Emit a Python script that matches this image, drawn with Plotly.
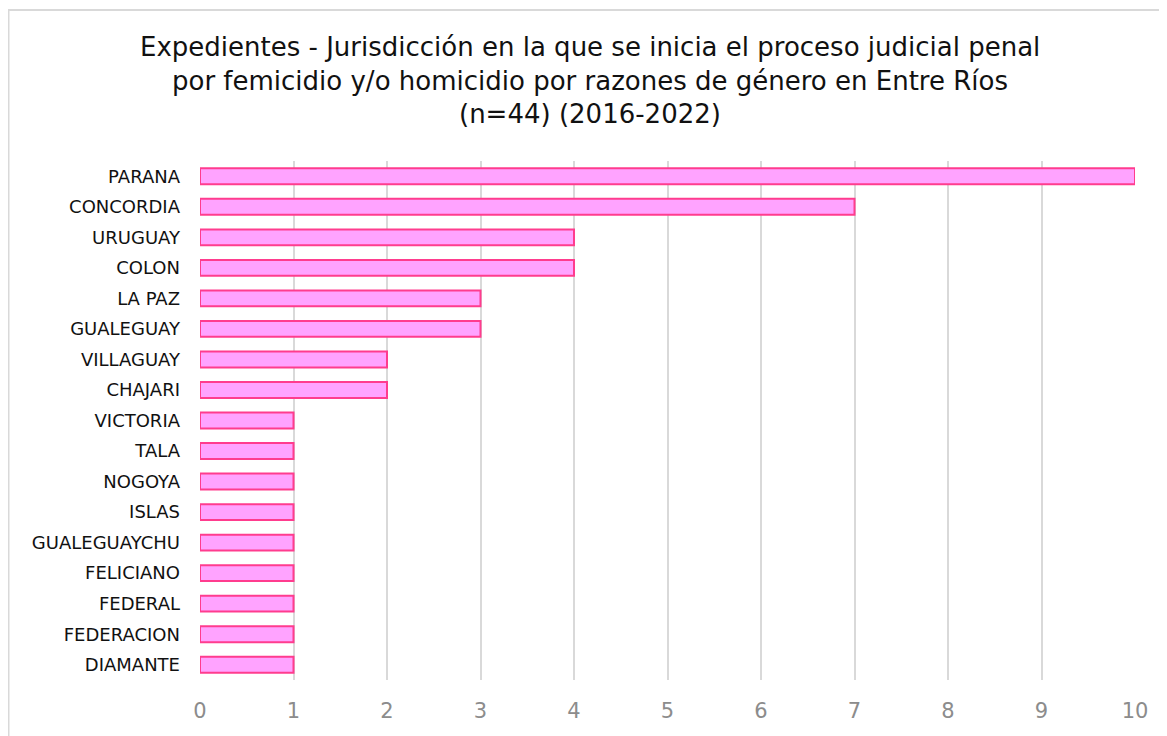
import plotly.graph_objects as go

categories = ["PARANA", "CONCORDIA", "URUGUAY", "COLON", "LA PAZ", "GUALEGUAY",
              "VILLAGUAY", "CHAJARI", "VICTORIA", "TALA", "NOGOYA", "ISLAS",
              "GUALEGUAYCHU", "FELICIANO", "FEDERAL", "FEDERACION", "DIAMANTE"]
values = [10, 7, 4, 4, 3, 3, 2, 2, 1, 1, 1, 1, 1, 1, 1, 1, 1]
x_ticks = list(range(0, 11))
title_lines = ["Expedientes - Jurisdicción en la que se inicia el proceso judicial penal",
               "por femicidio y/o homicidio por razones de género en Entre Ríos",
               "(n=44) (2016-2022)"]

OFF = 8  # page body margin
W, H = 1167, 736
L, R, T, B = 200 - OFF, 40, 161 - OFF, 64

fig = go.Figure(go.Bar(
    x=values, y=categories, orientation="h",
    marker=dict(color="#FFA3FF", line=dict(color="#FF3C8E", width=2)),
    width=0.52,
))

fig.update_layout(
    width=W, height=H,
    margin=dict(l=L, r=R, t=T, b=B, pad=0),
    paper_bgcolor="white", plot_bgcolor="white",
    showlegend=False,
    font=dict(family="DejaVu Sans", color="#000000"),
)
fig.update_yaxes(autorange="reversed", tickfont=dict(size=18, color="#111111"),
                 showgrid=False, ticks="", ticklabelstandoff=19, showline=False)
fig.update_xaxes(range=[0, 10], tickvals=x_ticks, showgrid=True, gridcolor="#D9D9D9",
                 gridwidth=2, zeroline=False, showline=False, ticks="",
                 tickfont=dict(size=21, color="#8C8C8C"), ticklabelstandoff=16)

pw = W - L - R
ph = H - T - B
title_y_px = [47, 81, 114]
for line, ypx in zip(title_lines, title_y_px):
    fig.add_annotation(text=line, xref="paper", yref="paper",
                       x=(590 - OFF - L) / pw, y=(H - B - (ypx - OFF)) / ph,
                       xanchor="center", yanchor="middle", showarrow=False,
                       font=dict(size=26, color="#111111", family="DejaVu Sans"))

# outer chart frame
fig.add_shape(type="rect", xref="paper", yref="paper",
              x0=(0.5 - L) / pw, x1=(1200 - L) / pw,
              y0=(H - B - 800) / ph, y1=(H - B - (10 - OFF)) / ph,
              line=dict(color="#D9D9D9", width=2), fillcolor="rgba(0,0,0,0)", layer="below")

fig.write_html("out.html")
